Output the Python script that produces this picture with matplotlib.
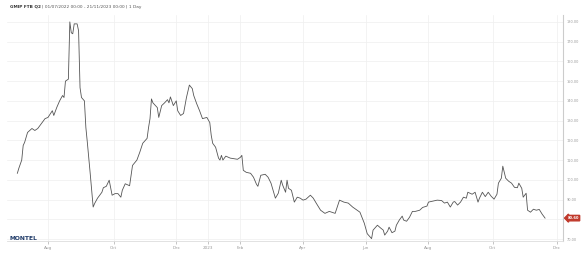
import matplotlib
matplotlib.use("Agg")
import matplotlib.pyplot as plt
import pandas as pd
import numpy as np

# trading-day number counted from 01/07/2022 (business days)
day = [0, 1, 3, 4, 5, 7, 10, 12, 14, 17, 19, 21, 24, 25, 27, 29, 31, 32, 33, 35,
       36, 37, 38, 39, 41, 42, 43, 44, 46, 47, 48, 50, 52, 53, 55, 58, 59, 61, 63, 65,
       67, 69, 71, 72, 74, 77, 79, 82, 84, 86, 89, 90, 91, 92, 93, 96, 97, 99, 101, 103,
       104, 105, 107, 109, 110, 112, 114, 116, 118, 120, 121, 123, 125, 127, 130, 132, 133, 134, 136, 138,
       139, 140, 141, 143, 146, 151, 153, 154, 155, 157, 160, 162, 164, 165, 167, 170, 172, 174, 176, 177,
       179, 181, 182, 184, 185, 186, 188, 190, 192, 194, 196, 198, 201, 203, 205, 208, 211, 214, 218, 221,
       224, 227, 230, 235, 238, 240, 243, 244, 247, 249, 251, 252, 254, 255, 257, 259, 260, 262, 264, 265,
       267, 269, 271, 273, 276, 278, 281, 282, 285, 288, 291, 293, 295, 297, 299, 300, 302, 304, 306, 308,
       309, 312, 314, 316, 317, 319, 321, 323, 325, 327, 329, 330, 332, 333, 335, 337, 339, 341, 343, 344,
       346, 347, 349, 350, 352, 354, 356, 358, 360, 362]
price = [103.3, 105.8, 110.0, 117.4, 119.0, 124.0, 126.0, 125.0, 126.0, 129.0, 131.0, 131.6, 135.0, 132.6, 136.6, 140.0, 142.7, 141.7, 150.0, 151.0,
         180.0, 174.5, 174.0, 179.0, 179.0, 175.5, 146.7, 141.7, 140.0, 126.5, 119.0, 103.0, 86.2, 88.0, 90.7, 93.7, 96.0, 96.7, 99.8, 92.2,
         93.0, 93.0, 91.2, 94.7, 98.0, 97.0, 107.3, 110.0, 114.0, 118.5, 121.0, 126.5, 131.0, 141.0, 139.0, 136.6, 131.6, 137.6, 139.0, 140.6,
         139.0, 142.0, 137.6, 140.0, 135.0, 132.6, 133.6, 141.7, 148.0, 146.2, 142.7, 138.6, 135.0, 131.0, 131.6, 129.0, 122.5, 118.5, 116.5, 111.0,
         110.0, 112.4, 110.0, 112.0, 111.0, 110.4, 111.4, 112.4, 104.8, 103.8, 103.3, 101.3, 97.8, 96.7, 102.3, 102.8, 101.3, 98.3, 93.2, 90.7,
         93.2, 99.8, 97.3, 93.7, 99.8, 95.7, 94.7, 88.7, 91.2, 90.7, 89.7, 90.2, 92.2, 90.7, 88.2, 84.6, 83.0, 84.0, 83.0, 89.7,
         88.7, 88.2, 86.2, 83.6, 78.0, 72.7, 70.2, 74.5, 77.0, 75.7, 74.5, 72.0, 74.0, 76.0, 73.2, 74.0, 77.0, 79.6, 81.6, 79.6,
         79.0, 81.0, 84.0, 84.0, 84.6, 86.0, 86.7, 88.7, 89.2, 89.7, 89.5, 88.2, 88.7, 86.2, 88.7, 89.0, 87.2, 88.7, 91.2, 90.7,
         93.7, 92.7, 93.7, 88.7, 90.7, 93.7, 91.5, 93.7, 91.7, 90.2, 92.7, 98.3, 100.8, 106.9, 100.8, 99.3, 98.3, 96.2, 96.0, 98.3,
         95.7, 91.2, 93.2, 84.6, 83.6, 85.1, 84.6, 85.0, 82.6, 80.6]

month_labels = ["Aug", "Oct", "Dec", "2023", "Feb", "Apr", "Jun", "Aug", "Oct", "Dec"]
month_dates = ["2022-08-01", "2022-10-03", "2022-12-01", "2023-01-02", "2023-02-01",
               "2023-04-03", "2023-06-01", "2023-08-01", "2023-10-02", "2023-12-01"]
y_ticks = [70, 80, 90, 100, 110, 120, 130, 140, 150, 160, 170, 180]

bdays = pd.bdate_range("2022-07-01", "2023-12-29")
tick_pos = [int(bdays.searchsorted(pd.Timestamp(d))) for d in month_dates]

fig = plt.figure(figsize=(5.81, 2.54), dpi=100)
ax = fig.add_axes([7/581, 13/254, 556/581, 226/254])
ax.plot(day, price, color="#555555", lw=0.6)

last = price[-1]
ax.set_xlim(-7.1, 374.3)
ax.set_ylim(69.0, 183.5)
ax.set_xticks(tick_pos)
ax.set_xticklabels(month_labels)
ax.set_yticks(y_ticks)
# the tick label hidden behind the last-value marker is left blank
ax.set_yticklabels(["" if abs(v - last) < 4 else f"{v:.2f}" for v in y_ticks])
ax.yaxis.tick_right()
ax.tick_params(axis="x", labelsize=3.0, colors="#999999", length=2, width=0.4, pad=1.5)
ax.tick_params(axis="y", labelsize=2.5, colors="#999999", length=0, pad=2.5)
ax.grid(True, color="#efefef", lw=0.5)
for s in ["top", "left"]:
    ax.spines[s].set_visible(False)
ax.spines["right"].set_color("#cccccc")
ax.spines["right"].set_linewidth(0.8)
ax.spines["bottom"].set_color("#dddddd")
ax.spines["bottom"].set_linewidth(0.6)

# last value marker
ax.annotate(f"{last:.2f}", xy=(1.0, last), xycoords=("axes fraction", "data"),
            xytext=(3.2, 0), textcoords="offset points", ha="left", va="center",
            fontsize=2.6, color="white", fontweight="bold",
            bbox=dict(boxstyle="larrow,pad=0.2", fc="#c0392b", ec="#c0392b"),
            annotation_clip=False)

t1 = fig.text(10/581, 1 - 7/254, "GMIP FTB Q2", fontsize=3.1, fontweight="bold",
              color="#333333", va="center", ha="left")
fig.canvas.draw()
bb = t1.get_window_extent(renderer=fig.canvas.get_renderer())
x2 = (bb.x1 + 1.5) / fig.bbox.width
fig.text(x2, 1 - 7/254, "| 01/07/2022 00:00 - 21/11/2023 00:00 | 1 Day", fontsize=3.1,
         color="#555555", va="center", ha="left")
fig.text(10/581, 1 - 238/254, "MONTEL", fontsize=4.3, fontweight="bold",
         color="#1f3a68", va="center", ha="left")

fig.savefig("out.png", dpi=100)
